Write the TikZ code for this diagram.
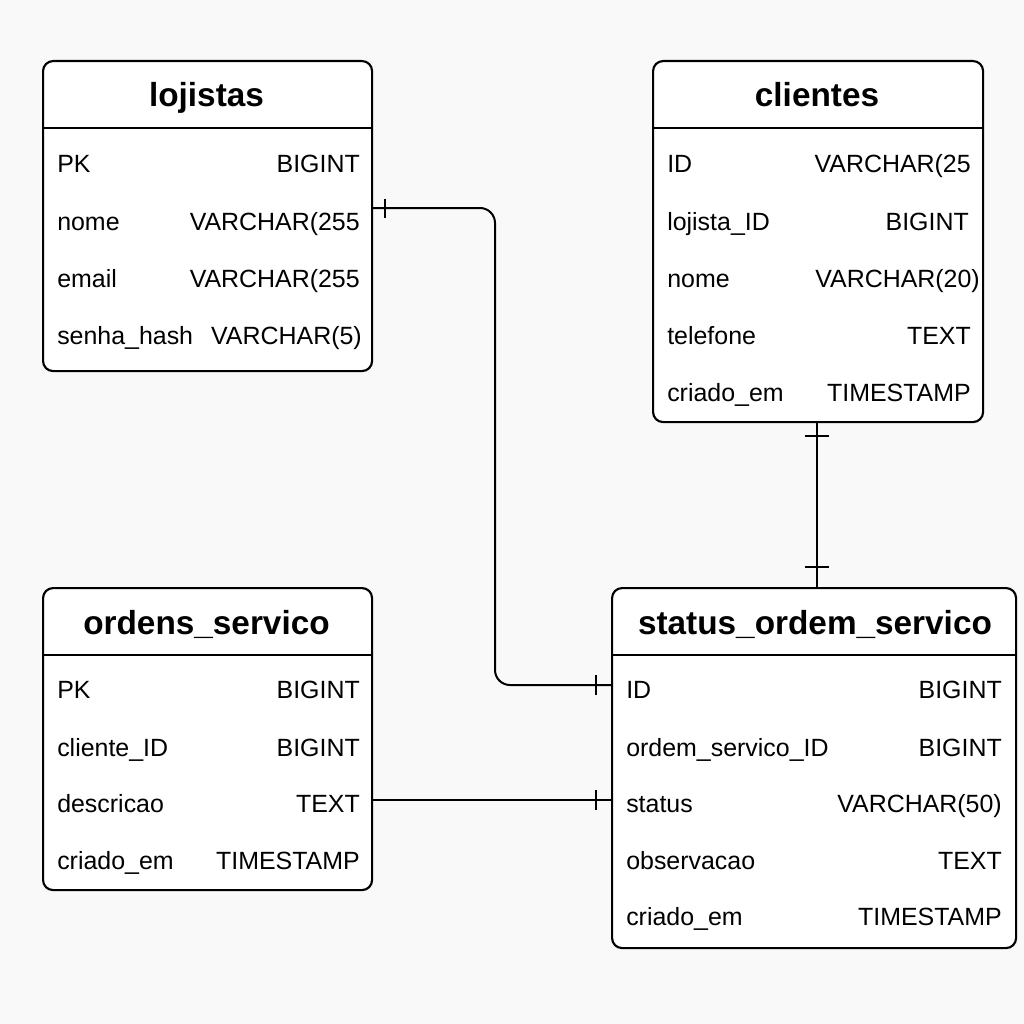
\documentclass[tikz,border=0pt]{standalone}
\usepackage{fontspec}
\setmainfont{Liberation Sans}
\begin{document}
\begin{tikzpicture}[x=0.75pt,y=-0.75pt,
  tbl/.style={draw=black, line width=1.6pt, fill=white, rounded corners=7.5pt, anchor=north west, inner sep=0pt},
  divline/.style={line width=1.5pt},
  ttl/.style={font=\fontsize{25}{28}\selectfont\bfseries, anchor=base, inner sep=0pt},
  lft/.style={font=\fontsize{18.7}{20}\selectfont, anchor=base west, inner sep=0pt},
  rgt/.style={font=\fontsize{18.7}{20}\selectfont, anchor=base east, inner sep=0pt},
  conn/.style={line width=1.5pt},
  tick/.style={line width=1.5pt}]
\fill[fill={rgb,255:red,249;green,249;blue,249}] (0,0) rectangle (1024,1024);
\useasboundingbox (0,0) rectangle (1024,1024);

% lojistas
\node[tbl, minimum width=246.75pt, minimum height=232.5pt] (lojistas) at (42,60) {};
\draw[divline] (42,128) -- (371,128);
\node[ttl] (lojistas-t) at (206.5,107) {lojistas};
\node[lft] (l1a) at (57,172) {PK};          \node[rgt] (l1b) at (360,172) {BIGINT};
\node[lft] (l2a) at (57,230) {nome};        \node[rgt] (l2b) at (360,230) {VARCHAR(255};
\node[lft] (l3a) at (57,287) {email};       \node[rgt] (l3b) at (360,287) {VARCHAR(255};
\node[lft] (l4a) at (57,344) {senha\_hash}; \node[rgt] (l4b) at (362,344) {VARCHAR(5)};

% clientes
\node[tbl, minimum width=247.5pt, minimum height=270.75pt] (clientes) at (652,60) {};
\draw[divline] (652,128) -- (982,128);
\node[ttl] (clientes-t) at (817,107) {clientes};
\node[lft] (c1a) at (667,172) {ID};          \node[rgt] (c1b) at (971,172) {VARCHAR(25};
\node[lft] (c2a) at (667,230) {lojista\_ID}; \node[rgt] (c2b) at (969,230) {BIGINT};
\node[lft] (c3a) at (667,287) {nome};        \node[rgt] (c3b) at (980,287) {VARCHAR(20)};
\node[lft] (c4a) at (667,344) {telefone};    \node[rgt] (c4b) at (971,344) {TEXT};
\node[lft] (c5a) at (667,401) {criado\_em};  \node[rgt] (c5b) at (971,401) {TIMESTAMP};

% ordens_servico
\node[tbl, minimum width=246.75pt, minimum height=226.5pt] (ordens) at (42,587) {};
\draw[divline] (42,655) -- (371,655);
\node[ttl] (ordens-t) at (206.5,634) {ordens\_servico};
\node[lft] (o1a) at (57,698) {PK};          \node[rgt] (o1b) at (360,698) {BIGINT};
\node[lft] (o2a) at (57,756) {cliente\_ID};  \node[rgt] (o2b) at (360,756) {BIGINT};
\node[lft] (o3a) at (57,812) {descricao};    \node[rgt] (o3b) at (360,812) {TEXT};
\node[lft] (o4a) at (57,869) {criado\_em};   \node[rgt] (o4b) at (360,869) {TIMESTAMP};

% status_ordem_servico
\node[tbl, minimum width=303pt, minimum height=270pt] (status) at (611,587) {};
\draw[divline] (611,655) -- (1015,655);
\node[ttl] (status-t) at (815,634) {status\_ordem\_servico};
\node[lft] (s1a) at (626,698) {ID};               \node[rgt] (s1b) at (1002,698) {BIGINT};
\node[lft] (s2a) at (626,756) {ordem\_servico\_ID}; \node[rgt] (s2b) at (1002,756) {BIGINT};
\node[lft] (s3a) at (626,812) {status};           \node[rgt] (s3b) at (1002,812) {VARCHAR(50)};
\node[lft] (s4a) at (626,869) {observacao};       \node[rgt] (s4b) at (1002,869) {TEXT};
\node[lft] (s5a) at (626,925) {criado\_em};       \node[rgt] (s5b) at (1002,925) {TIMESTAMP};

% connectors
\draw[conn, rounded corners=11.25pt] (lojistas.east |- 0,208) -- (495,208) -- (495,685) -- (status.west |- 0,685);
\draw[tick] (385,199) -- (385,218);
\draw[tick] (596,675) -- (596,695);

\draw[conn] (clientes.south -| 817,0) -- (status.north -| 817,0);
\draw[tick] (805,436) -- (829,436);
\draw[tick] (805,567) -- (829,567);

\draw[conn] (ordens.east |- 0,800) -- (status.west |- 0,800);
\draw[tick] (596,790) -- (596,810);
\end{tikzpicture}
\end{document}
